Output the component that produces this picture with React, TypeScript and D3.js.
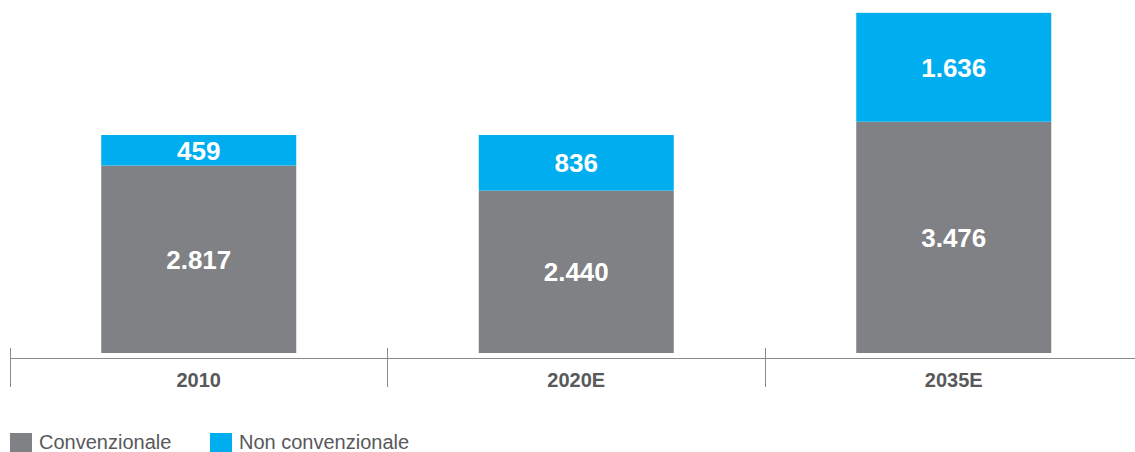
import React from "react";
import * as d3 from "d3";

const categories = ["2010", "2020E", "2035E"];
const convenzionale = [2817, 2440, 3476];
const nonConvenzionale = [459, 836, 1636];
const valueLabels = (v: number) => d3.format(",")(v).replace(/,/g, ".");

export default function App() {
  const W = 1135, H = 452;
  const x = d3.scaleBand<string>().domain(categories).range([10, 1142.5]).padding(0);
  const y = d3.scaleLinear().domain([0, 5305]).range([353, 0]);
  const barW = 195;
  const gray = "#808184";
  const blue = "#00AEEF";
  const font = "'Liberation Sans', Arial, Helvetica, sans-serif";
  const ticks = [10, 387, 765];
  return (
    <svg width={W} height={H} style={{ position: "absolute", left: 0, top: 0 }} fontFamily={font}>
      {categories.map((c, i) => {
        const cx = (x(c) as number) + x.bandwidth() / 2;
        const conv = convenzionale[i];
        const non = nonConvenzionale[i];
        const y0 = y(0), y1 = y(conv), y2 = y(conv + non);
        return (
          <g key={c}>
            <rect x={cx - barW / 2} y={y1} width={barW} height={y0 - y1} fill={gray} />
            <rect x={cx - barW / 2} y={y2} width={barW} height={y1 - y2} fill={blue} />
            <text x={cx} y={(y0 + y1) / 2} dy="0.36em" textAnchor="middle" fill="#fff" fontWeight="bold" fontSize={26}>{valueLabels(conv)}</text>
            <text x={cx} y={(y1 + y2) / 2} dy="0.36em" textAnchor="middle" fill="#fff" fontWeight="bold" fontSize={26}>{valueLabels(non)}</text>
            <text x={cx} y={380} dy="0.36em" textAnchor="middle" fill="#58595b" fontWeight="bold" fontSize={20}>{c}</text>
          </g>
        );
      })}
      <line x1={10} x2={1135} y1={358.5} y2={358.5} stroke="#8a8a8a" strokeWidth={1} />
      {ticks.map((t) => (
        <line key={t} x1={t + 0.5} x2={t + 0.5} y1={348} y2={387} stroke="#8a8a8a" strokeWidth={1} />
      ))}
      <rect x={10} y={433} width={22} height={19} fill={gray} />
      <text x={39} y={442} dy="0.36em" fill="#58595b" fontSize={20}>Convenzionale</text>
      <rect x={210} y={433} width={22} height={19} fill={blue} />
      <text x={239} y={442} dy="0.36em" fill="#58595b" fontSize={20}>Non convenzionale</text>
    </svg>
  );
}
